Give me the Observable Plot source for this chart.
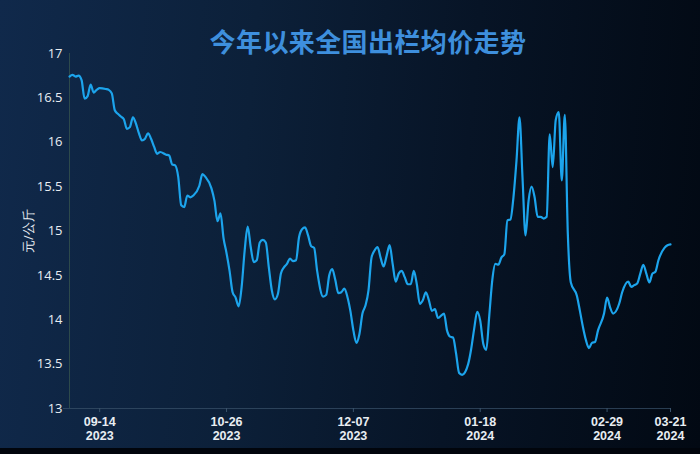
<!DOCTYPE html>
<html>
<head>
<meta charset="utf-8">
<script src="https://cdn.jsdelivr.net/npm/d3@7"></script>
<script src="https://cdn.jsdelivr.net/npm/@observablehq/plot@0.6"></script>
<style>
  html, body { margin: 0; padding: 0; background: #01050c; }
  #wrap {
    position: relative; width: 700px; height: 448px; overflow: hidden;
    background: linear-gradient(95deg, #10294b 0%, #0c2039 35%, #071426 65%, #020913 100%);
  }
  #title {
    position: absolute; left: 0; width: 736px; top: 22px; text-align: center;
    font-family: "Noto Sans CJK SC", sans-serif; font-weight: 700; font-size: 26px;
    color: #3e8fdd; letter-spacing: 0.4px; pointer-events: none;
  }
  #chart { position: absolute; left: 0; top: 0; }
</style>
</head>
<body>
<div id="wrap">
  <div id="chart"></div>
  <div id="title">今年以来全国出栏均价走势</div>
</div>
<script>
const dates = [
  "2023-09-04","2023-09-05","2023-09-06","2023-09-07","2023-09-08","2023-09-09","2023-09-10","2023-09-11","2023-09-12","2023-09-13",
  "2023-09-14","2023-09-16","2023-09-17","2023-09-18","2023-09-19","2023-09-20","2023-09-21","2023-09-22","2023-09-23","2023-09-24",
  "2023-09-25","2023-09-26","2023-09-27","2023-09-28","2023-09-29","2023-09-30","2023-10-01","2023-10-02","2023-10-03","2023-10-04",
  "2023-10-06","2023-10-07","2023-10-08","2023-10-09","2023-10-10","2023-10-11","2023-10-12","2023-10-13","2023-10-14","2023-10-15",
  "2023-10-17","2023-10-18","2023-10-19","2023-10-21","2023-10-22","2023-10-23","2023-10-24","2023-10-25","2023-10-26","2023-10-27",
  "2023-10-28","2023-10-29","2023-10-30","2023-10-31","2023-11-01","2023-11-02","2023-11-03","2023-11-04","2023-11-05","2023-11-06",
  "2023-11-07","2023-11-08","2023-11-09","2023-11-10","2023-11-11","2023-11-12","2023-11-13","2023-11-14","2023-11-15","2023-11-16",
  "2023-11-17","2023-11-18","2023-11-19","2023-11-20","2023-11-21","2023-11-22","2023-11-23","2023-11-24","2023-11-25","2023-11-27",
  "2023-11-28","2023-11-29","2023-11-30","2023-12-01","2023-12-02","2023-12-03","2023-12-04","2023-12-05","2023-12-06","2023-12-07",
  "2023-12-08","2023-12-09","2023-12-10","2023-12-11","2023-12-12","2023-12-13","2023-12-14","2023-12-15","2023-12-16","2023-12-17",
  "2023-12-18","2023-12-19","2023-12-20","2023-12-21","2023-12-22","2023-12-23","2023-12-24","2023-12-25","2023-12-26","2023-12-27",
  "2023-12-28","2023-12-29","2023-12-30","2023-12-31","2024-01-01","2024-01-02","2024-01-03","2024-01-04","2024-01-06","2024-01-07",
  "2024-01-08","2024-01-09","2024-01-10","2024-01-11","2024-01-12","2024-01-14","2024-01-15","2024-01-16","2024-01-17","2024-01-18",
  "2024-01-19","2024-01-20","2024-01-21","2024-01-22","2024-01-23","2024-01-24","2024-01-25","2024-01-26","2024-01-27","2024-01-28",
  "2024-01-29","2024-01-30","2024-01-31","2024-02-01","2024-02-02","2024-02-03","2024-02-04","2024-02-05","2024-02-06","2024-02-07",
  "2024-02-08","2024-02-09","2024-02-10","2024-02-11","2024-02-12","2024-02-13","2024-02-14","2024-02-15","2024-02-16","2024-02-17",
  "2024-02-19","2024-02-20","2024-02-21","2024-02-22","2024-02-23","2024-02-24","2024-02-25","2024-02-26","2024-02-28","2024-02-29",
  "2024-03-01","2024-03-02","2024-03-04","2024-03-05","2024-03-07","2024-03-08","2024-03-09","2024-03-10","2024-03-11","2024-03-12",
  "2024-03-13","2024-03-14","2024-03-15","2024-03-16","2024-03-17","2024-03-19","2024-03-20","2024-03-21"
];
const prices = [
  16.74,16.76,16.74,16.75,16.70,16.49,16.52,16.65,16.56,16.59,
  16.61,16.60,16.59,16.55,16.36,16.32,16.29,16.26,16.15,16.17,
  16.28,16.21,16.10,16.02,16.04,16.10,16.04,15.95,15.87,15.89,
  15.86,15.85,15.75,15.74,15.61,15.29,15.27,15.40,15.38,15.40,
  15.51,15.64,15.61,15.48,15.34,15.11,15.20,14.92,14.75,14.55,
  14.31,14.25,14.15,14.37,14.78,15.05,14.82,14.65,14.67,14.87,
  14.90,14.87,14.59,14.33,14.23,14.29,14.52,14.59,14.63,14.69,
  14.66,14.67,14.93,15.02,15.04,14.95,14.83,14.81,14.55,14.26,
  14.28,14.50,14.57,14.45,14.30,14.31,14.35,14.26,14.10,13.88,
  13.74,13.84,14.07,14.16,14.33,14.70,14.78,14.82,14.70,14.60,
  14.72,14.84,14.63,14.43,14.52,14.55,14.48,14.40,14.40,14.55,
  14.40,14.18,14.22,14.31,14.22,14.10,14.12,14.02,14.07,13.88,
  13.81,13.80,13.62,13.40,13.38,13.50,13.67,13.90,14.09,13.99,
  13.73,13.66,14.05,14.45,14.63,14.62,14.70,14.74,15.12,15.13,
  15.38,15.79,16.28,15.60,14.95,15.34,15.50,15.38,15.16,15.16,
  15.14,15.16,16.09,15.72,16.25,16.34,15.57,16.31,14.97,14.42,
  14.27,14.10,13.92,13.77,13.68,13.74,13.75,13.88,14.07,14.25,
  14.14,14.07,14.18,14.31,14.43,14.37,14.39,14.41,14.52,14.62,
  14.52,14.42,14.52,14.54,14.67,14.81,14.84,14.85
];
const xTicks = ["2023-09-14","2023-10-26","2023-12-07","2024-01-18","2024-02-29","2024-03-21"];
const yTicks = [13, 13.5, 14, 14.5, 15, 15.5, 16, 16.5, 17];
const yLabel = "元/公斤";

const data = dates.map((d, i) => ({date: new Date(d), price: prices[i]}));
const fmtMD = d3.utcFormat("%m-%d"), fmtY = d3.utcFormat("%Y");

const chart = Plot.plot({
  width: 700,
  height: 448,
  marginLeft: 69,
  marginRight: 30,
  marginTop: 53,
  marginBottom: 40,
  style: {background: "transparent", fontFamily: "'Open Sans', 'Noto Sans', sans-serif", color: "#e4e9ef"},
  x: {type: "utc", domain: [new Date(dates[0]), new Date(dates[dates.length - 1])]},
  y: {domain: [13, 17]},
  marks: [
    Plot.ruleY([13], {stroke: "#3a536b", strokeOpacity: 0.7, strokeWidth: 1, insetLeft: -6}),
    Plot.ruleX([new Date(dates[0])], {stroke: "#3b5a4f", strokeOpacity: 0.7, strokeWidth: 1}),
    Plot.axisX({
      ticks: xTicks.map(d => new Date(d)),
      tickFormat: d => fmtMD(d) + "\n" + fmtY(d),
      tickSize: 4, tickPadding: 4, stroke: "#3a536b", fill: "#e8edf2",
      fontSize: 12.5, lineHeight: 1.1, fontWeight: 600,
      fontFamily: "'Liberation Sans', Arial, sans-serif", label: null
    }),
    Plot.axisY({
      ticks: yTicks, tickFormat: d => String(d), tickSize: 0, tickPadding: 7,
      fill: "#e8edf2", fontSize: 13, label: yLabel, labelAnchor: "center",
      labelArrow: "none", labelOffset: 46
    }),
    Plot.lineY(data, {x: "date", y: "price", curve: "monotone-x", stroke: "#1ca4ec", strokeWidth: 2.2})
  ]
});
document.getElementById("chart").appendChild(chart);
</script>
</body>
</html>
